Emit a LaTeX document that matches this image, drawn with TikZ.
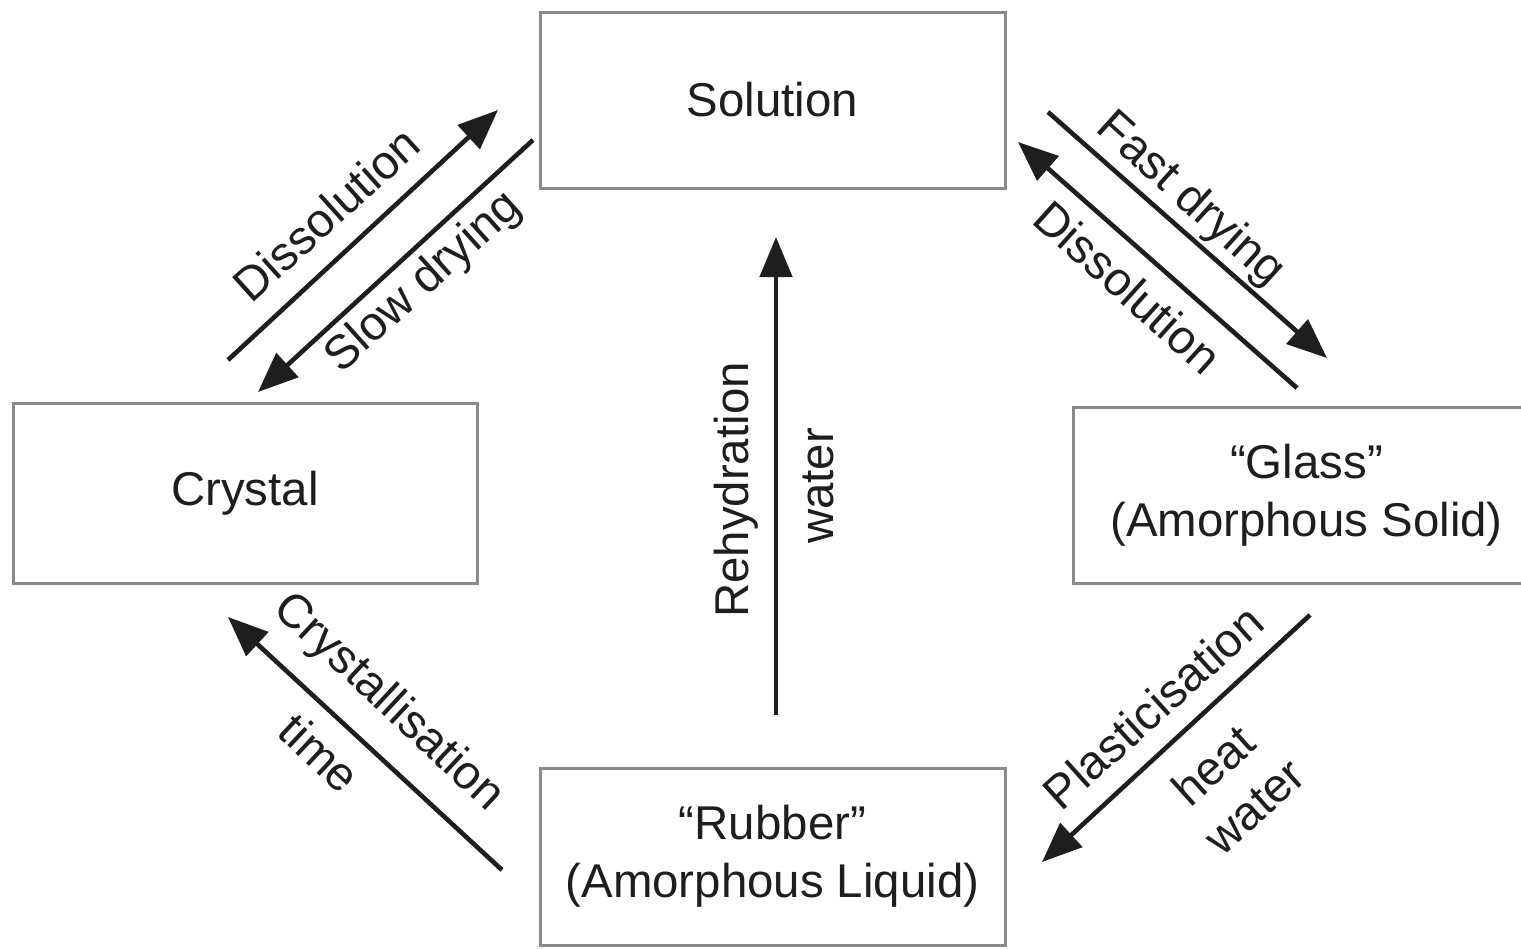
\documentclass[tikz,border=0pt]{standalone}
\usepackage{fontspec}
\setmainfont{Liberation Sans}
\usetikzlibrary{arrows.meta}
\definecolor{boxgray}{HTML}{8A8A8A}
\definecolor{textc}{HTML}{1E1E1E}
\begin{document}
\begin{tikzpicture}[x=0.5pt,y=-0.5pt,
  box/.style={draw=boxgray, line width=1.5pt, rectangle, inner sep=0pt, align=center,
    font=\fontsize{23.7}{29}\selectfont, text=textc},
  arr/.style={line width=2.3pt, draw=textc, -{Triangle[length=20pt,width=16pt]}},
  lbl/.style={font=\fontsize{23.7}{28}\selectfont, inner sep=0pt, text=textc}]
\clip (0,0) rectangle (1521,948);
\fill[white] (0,0) rectangle (1521,948);
% boxes
\node[box, minimum width=232.5pt, minimum height=88pt] (sol) at (772.5,100) {Solution};
\node[box, minimum width=232pt, minimum height=90pt] (cry) at (245,493) {Crystal};
\node[box, minimum width=233.5pt, minimum height=88pt] (gla) at (1306.5,495) {“Glass”\\(Amorphous Solid)};
\node[box, minimum width=232.5pt, minimum height=88.5pt] (rub) at (772.5,856.5) {“Rubber”\\(Amorphous Liquid)};
% arrow end points
\coordinate (d1s) at (228,360);
\coordinate (d1e) at (498,110);
\coordinate (sds) at (533,140);
\coordinate (sde) at (258,392);
\coordinate (fds) at (1048,112);
\coordinate (fde) at (1327,358);
\coordinate (d2s) at (1297,388);
\coordinate (d2e) at (1018,142);
\coordinate (crs) at (502,870);
\coordinate (cre) at (228,617);
\coordinate (pls) at (1310,615);
\coordinate (ple) at (1042,862);
\coordinate (rhs) at (776,715);
\coordinate (rhe) at (776,237);
% arrows
\draw[arr] (d1s) -- (d1e);
\draw[arr] (sds) -- (sde);
\draw[arr] (fds) -- (fde);
\draw[arr] (d2s) -- (d2e);
\draw[arr] (crs) -- (cre);
\draw[arr] (pls) -- (ple);
\draw[arr] (rhs) -- (rhe);
% labels
\node[lbl, rotate=42] (l1) at (326,214) {Dissolution};
\node[lbl, rotate=42] (l2) at (424,283) {Slow drying};
\node[lbl, rotate=-42] (l3) at (1190,200) {Fast drying};
\node[lbl, rotate=-42] (l4) at (1128,287) {Dissolution};
\node[lbl, rotate=-43] (l5) at (388,703) {Crystallisation};
\node[lbl, rotate=-43] (l6) at (320,753) {time};
\node[lbl, rotate=42] (l7) at (1153,707) {Plasticisation};
\node[lbl, rotate=42] (l8) at (1213,765) {heat};
\node[lbl, rotate=42] (l9) at (1255,807) {water};
\node[lbl, rotate=90] (l10) at (736,490) {Rehydration};
\node[lbl, rotate=90] (l11) at (818,486) {water};
\end{tikzpicture}
\end{document}
